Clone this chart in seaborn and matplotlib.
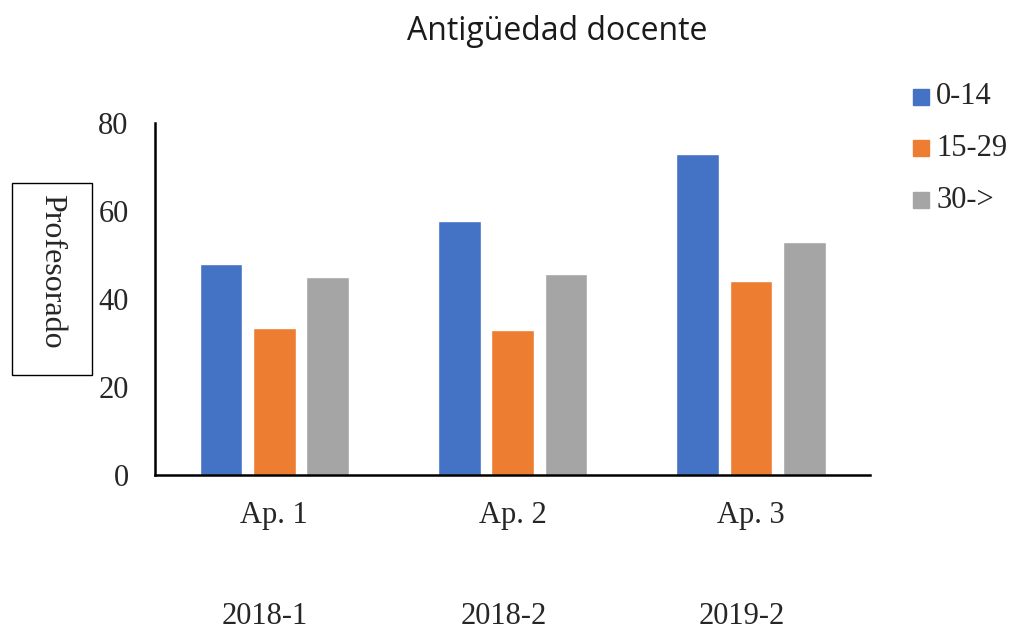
import matplotlib
matplotlib.use('Agg')
import matplotlib.pyplot as plt
from matplotlib.patches import Rectangle
import seaborn as sns
import pandas as pd

# Chart data
apps = ['Ap. 1', 'Ap. 2', 'Ap. 3']
periods = ['2018-1', '2018-2', '2019-2']
groups = ['0-14', '15-29', '30->']
vals_0_14 = [48, 57.7, 73]
vals_15_29 = [33.4, 33, 44]
vals_30 = [45, 45.7, 53]
colors = ['#4472C4', '#ED7D31', '#A5A5A5']

df = pd.DataFrame({
    'app': apps * 3,
    'grupo': [g for g in groups for _ in apps],
    'valor': vals_0_14 + vals_15_29 + vals_30,
})

sns.set_style('white')
plt.rcParams['font.family'] = ['Liberation Serif', 'DejaVu Serif']

fig = plt.figure(figsize=(10.14, 6.34), dpi=100)
ax = fig.add_axes([0.1529, 0.2508, 0.7053, 0.5552])

sns.barplot(data=df, x='app', y='valor', hue='grupo', palette=colors,
            width=0.67, gap=0.2, ax=ax, legend=False, saturation=1)

ax.set_xlim(-0.5, 2.5)
ax.set_ylim(0, 80)
ax.set_yticks([0, 20, 40, 60, 80])
ax.tick_params(axis='both', length=0, labelsize=22)
ax.tick_params(axis='y', pad=19)
ax.tick_params(axis='x', pad=19)
ax.set_xlabel('')
ax.set_ylabel('')
for s in ['top', 'right']:
    ax.spines[s].set_visible(False)
for s in ['left', 'bottom']:
    ax.spines[s].set_color('black')
    ax.spines[s].set_linewidth(1.8)

# Title
fig.text(557 / 1014, 1 - 32 / 634, 'Antigüedad docente', ha='center', va='center',
         fontsize=23, family=['Open Sans', 'DejaVu Sans'], color='#1a1a1a',
         fontweight='medium')

# Boxed y label
fig.patches.append(Rectangle((12 / 1014, 1 - 375 / 634), 80 / 1014, 192 / 634,
                             transform=fig.transFigure, fill=False,
                             edgecolor='black', linewidth=1))
fig.text(52 / 1014, 1 - 271 / 634, 'Profesorado', rotation=270,
         ha='center', va='center', fontsize=23)

# Legend
ly = [97, 148, 200]
for g, c, y in zip(groups, colors, ly):
    fig.patches.append(Rectangle((913 / 1014, 1 - (y + 8) / 634), 16 / 1014, 16 / 634,
                                 transform=fig.transFigure, color=c))
    fig.text(936 / 1014, 1 - y / 634, g, ha='left', va='center', fontsize=22)

# Period labels under categories
for i, p in enumerate(periods):
    xd = ax.transData.transform((i, 0))[0] - 9
    fig.text(xd / fig.dpi / fig.get_figwidth(), 1 - 616 / 634, p,
             ha='center', va='center', fontsize=22)

fig.savefig('out.png', dpi=100)
